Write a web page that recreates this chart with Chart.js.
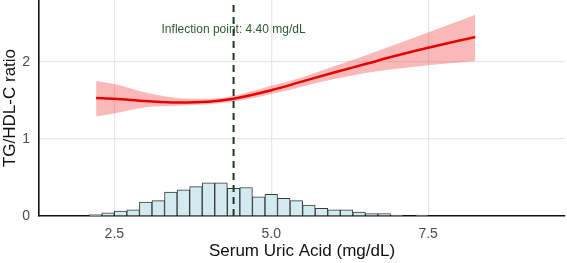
<!DOCTYPE html>
<html>
<head>
<meta charset="utf-8">
<title>TG/HDL-C ratio vs serum uric acid</title>
<script src="https://cdn.jsdelivr.net/npm/chart.js@4/dist/chart.umd.min.js"></script>
<style>
  html, body { margin: 0; padding: 0; background: #fff; }
  #wrap { width: 567px; height: 263px; position: relative; }
</style>
</head>
<body>
<div id="wrap"><canvas id="rcsChart"></canvas></div>
<script>
// histogram of uric acid (bin centres, bin width 0.2), scaled to y units
const binCenters = [2.2, 2.4, 2.6, 2.8, 3.0, 3.2, 3.4, 3.6, 3.8, 4.0, 4.2, 4.4, 4.6, 4.8,
                    5.0, 5.2, 5.4, 5.6, 5.8, 6.0, 6.2, 6.4, 6.6, 6.8, 7.0, 7.2, 7.4];
const binHeights = [0.02, 0.04, 0.065, 0.08, 0.18, 0.2, 0.31, 0.34, 0.38, 0.43, 0.43, 0.36, 0.37, 0.25,
                    0.28, 0.23, 0.2, 0.14, 0.1, 0.08, 0.08, 0.05, 0.03, 0.03, 0.013, null, 0.013];

// restricted cubic spline fit with 95% CI
const fitX  = [2.21, 2.5, 3.0, 3.5, 4.0, 4.4, 5.0, 5.5, 6.0, 6.5, 7.0, 7.5, 8.0, 8.25];
const fitY  = [1.53, 1.52, 1.49, 1.47, 1.48, 1.52, 1.63, 1.745, 1.86, 1.97, 2.08, 2.18, 2.275, 2.32];
const ciLow = [1.29, 1.33, 1.41, 1.43, 1.45, 1.48, 1.58, 1.68, 1.775, 1.855, 1.91, 1.955, 1.99, 2.01];
const ciUp  = [1.75, 1.71, 1.60, 1.53, 1.52, 1.56, 1.69, 1.80, 1.94, 2.08, 2.23, 2.38, 2.53, 2.61];

const inflectionX = 4.40;
const inflectionLabel = 'Inflection point: 4.40 mg/dL';
const inflectionLabelY = 2.42;

const xTicks = [2.5, 5.0, 7.5];
const yTicks = [0, 1, 2];
const xRange = [1.3, 9.68];
const yRange = [0, 2.8];

const toPoints = (xs, ys) => xs.map((x, i) => ({ x: x, y: ys[i] }));

const FONT = '"Liberation Sans", Arial, sans-serif';

// text label next to the dashed line
const labelPlugin = {
    id: 'inflectionLabel',
    afterDatasetsDraw(chart) {
        const { ctx, scales } = chart;
        ctx.save();
        ctx.font = '12px ' + FONT;
        ctx.fillStyle = '#2f5a2f';
        ctx.textAlign = 'center';
        ctx.textBaseline = 'middle';
        ctx.fillText(inflectionLabel, scales.x.getPixelForValue(inflectionX), scales.y.getPixelForValue(inflectionLabelY));
        ctx.restore();
    }
};

const ctx = document.getElementById('rcsChart');

new Chart(ctx, {
    type: 'bar',
    data: {
        datasets: [
            {
                type: 'bar',
                data: toPoints(binCenters, binHeights),
                backgroundColor: '#d3eaf1',
                borderColor: '#3a3a3a',
                borderWidth: 1,
                barPercentage: 1,
                categoryPercentage: 1,
                grouped: false,
                order: 4
            },
            {
                type: 'line',
                data: toPoints(fitX, ciLow),
                borderWidth: 0,
                pointRadius: 0,
                cubicInterpolationMode: 'monotone',
                fill: false,
                order: 3
            },
            {
                type: 'line',
                data: toPoints(fitX, ciUp),
                borderWidth: 0,
                pointRadius: 0,
                cubicInterpolationMode: 'monotone',
                fill: '-1',
                backgroundColor: 'rgba(240, 60, 60, 0.36)',
                order: 3
            },
            {
                type: 'line',
                data: toPoints(fitX, fitY),
                borderColor: '#e60000',
                borderWidth: 2.5,
                pointRadius: 0,
                cubicInterpolationMode: 'monotone',
                fill: false,
                order: 2
            },
            {
                type: 'line',
                data: toPoints([inflectionX, inflectionX], yRange),
                borderColor: '#1c3a1c',
                borderWidth: 2,
                borderDash: [7, 5],
                pointRadius: 0,
                fill: false,
                order: 1
            }
        ]
    },
    options: {
        responsive: true,
        maintainAspectRatio: false,
        devicePixelRatio: 1,
        animation: false,
        layout: { padding: { top: 0, right: 2, bottom: 0, left: 0 } },
        plugins: {
            legend: { display: false },
            tooltip: { enabled: false }
        },
        scales: {
            x: {
                type: 'linear',
                min: xRange[0],
                max: xRange[1],
                offset: false,
                afterBuildTicks: (scale) => { scale.ticks = xTicks.map(v => ({ value: v })); },
                afterFit: (scale) => {
                    scale.height = 47;
                    scale.paddingLeft = 0;
                    scale.paddingRight = 0;
                },
                ticks: {
                    color: '#4d4d4d',
                    font: { size: 14, family: FONT },
                    padding: 10,
                    maxRotation: 0,
                    callback: (v) => Number(v).toFixed(1)
                },
                grid: { color: '#e6e6e6', lineWidth: 1.2, drawTicks: false, offset: false },
                border: { display: true, color: '#111', width: 1.6 },
                title: {
                    display: true,
                    text: 'Serum Uric Acid (mg/dL)',
                    color: '#111',
                    font: { size: 17, family: FONT },
                    padding: { top: 0, bottom: 1 }
                }
            },
            y: {
                min: yRange[0],
                max: yRange[1],
                afterBuildTicks: (scale) => { scale.ticks = yTicks.map(v => ({ value: v })); },
                afterFit: (scale) => {
                    scale.width = 39;
                    scale.paddingTop = 0;
                    scale.paddingBottom = 0;
                },
                ticks: {
                    color: '#4d4d4d',
                    font: { size: 14, family: FONT },
                    padding: 9
                },
                grid: { color: '#e6e6e6', lineWidth: 1.2, drawTicks: false },
                border: { display: true, color: '#111', width: 1.6 },
                title: {
                    display: true,
                    text: 'TG/HDL-C ratio',
                    color: '#111',
                    font: { size: 17, family: FONT },
                    padding: { top: 0, bottom: 0 }
                }
            }
        }
    },
    plugins: [labelPlugin]
});
</script>
</body>
</html>
